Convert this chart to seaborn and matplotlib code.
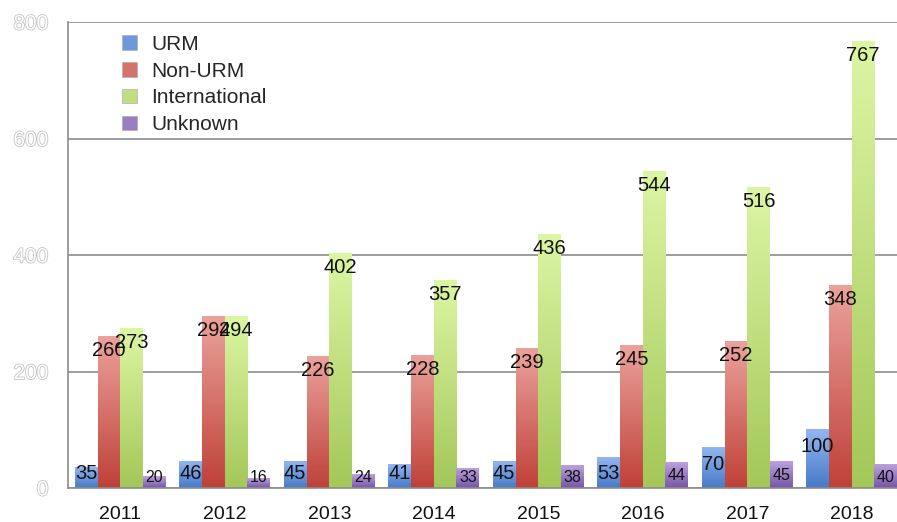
import numpy as np
import pandas as pd
import matplotlib.pyplot as plt
import matplotlib.patheffects as pe
from matplotlib.colors import LinearSegmentedColormap
from matplotlib.patches import Patch
import seaborn as sns

years = ["2011", "2012", "2013", "2014", "2015", "2016", "2017", "2018"]
groups = ["URM", "Non-URM", "International", "Unknown"]
urm = [35, 46, 45, 41, 45, 53, 70, 100]
non_urm = [260, 294, 226, 228, 239, 245, 252, 348]
international = [273, 294, 402, 357, 436, 544, 516, 767]
unknown = [20, 16, 24, 33, 38, 44, 45, 40]

# (bottom, top) colours of the gradient fill for each series
shades = {
    "URM": ("#477ac8", "#93b6f0"),
    "Non-URM": ("#bf4138", "#eba29c"),
    "International": ("#a3c758", "#dcf6a4"),
    "Unknown": ("#7755a8", "#bba2de"),
}
mid = {k: sns.blend_palette(list(v), 3)[1] for k, v in shades.items()}

df = pd.DataFrame({
    "year": np.repeat(years, len(groups)),
    "group": groups * len(years),
    "count": np.column_stack([urm, non_urm, international, unknown]).ravel(),
})

sns.set_theme(style="white")
plt.rcParams["font.family"] = ["Liberation Sans", "DejaVu Sans"]

fig = plt.figure(figsize=(8.97, 5.22), dpi=100)
ax = fig.add_axes([68 / 897, 34 / 522, 836 / 897, 466 / 522])

sns.barplot(data=df, x="year", y="count", hue="group", hue_order=groups,
            palette=mid, width=0.87, gap=0, saturation=1, errorbar=None,
            legend=False, ax=ax)

grad = np.linspace(0, 1, 256).reshape(-1, 1)
for grp, cont in zip(groups, ax.containers):
    cmap = LinearSegmentedColormap.from_list(grp, list(shades[grp]))
    small = grp == "Unknown"
    for rect in cont:
        x0, w, h = rect.get_x(), rect.get_width(), rect.get_height()
        ax.imshow(grad, origin="lower", extent=[x0, x0 + w, 0, h], aspect="auto",
                  cmap=cmap, zorder=2, interpolation="bilinear")
        rect.set_alpha(0)
        # value label sits just inside the top of the bar
        if small:
            ly, fs = max(h - 23, 18), 11.5
        elif grp == "URM":
            ly, fs = max(h - 29, 25), 14.5
        else:
            ly, fs = max(h - 24, 25), 14.5
        ax.text(x0 + w / 2, ly, f"{int(h)}", ha="center", va="center",
                fontsize=fs, color="#111111", zorder=4)

ax.set_xlim(-0.5, len(years) - 0.5)
ax.set_ylim(0, 800)
ax.set_yticks([0, 200, 400, 600, 800])
ax.set_xticks(np.arange(-0.5, len(years), 1), minor=True)
ax.set_xlabel("")
ax.set_ylabel("")

ax.set_axisbelow(True)
ax.yaxis.grid(True, color="#8c8c8c", lw=1.2)
ax.xaxis.grid(False)
for s in ["top", "right"]:
    ax.spines[s].set_visible(False)
for s in ["left", "bottom"]:
    ax.spines[s].set_color("#8c8c8c")
    ax.spines[s].set_linewidth(1.2)

ax.tick_params(axis="x", which="major", length=0, labelsize=14, pad=13, labelcolor="#111111")
ax.tick_params(axis="x", which="minor", length=4, color="#8c8c8c", width=1, direction="out")
ax.tick_params(axis="y", length=3, color="#8c8c8c", labelsize=15, pad=11, labelcolor="white")
for lab in ax.get_yticklabels():
    lab.set_path_effects([pe.withStroke(linewidth=1.2, foreground="#c4c4c4")])

handles = [Patch(facecolor=mid[g], edgecolor="#b0b0b0", lw=0.5, label=g) for g in groups]
ax.legend(handles=handles, loc="upper left", bbox_to_anchor=(0.064, 0.972),
          frameon=False, fontsize=15, handlelength=0.72, handleheight=0.7,
          handletextpad=0.72, labelspacing=0.37, borderpad=0, borderaxespad=0)

fig.savefig("out.png", dpi=100)
